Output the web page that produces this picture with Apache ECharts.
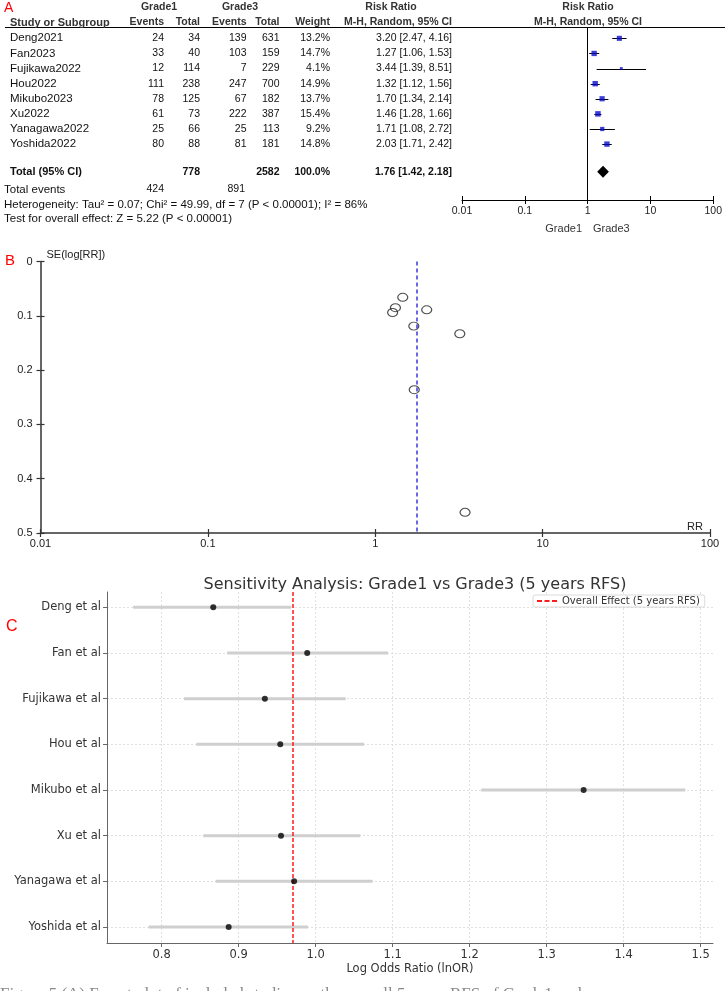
<!DOCTYPE html>
<html><head><meta charset="utf-8">
<script src="https://cdn.jsdelivr.net/npm/echarts@6/dist/echarts.min.js"></script>
<style>html,body{margin:0;padding:0;background:#fff}#c{width:725px;height:991px}</style>
</head><body><div id="c"></div>
<script>
// ---------- DATA ----------
const studies = ['Deng2021','Fan2023','Fujikawa2022','Hou2022','Mikubo2023','Xu2022','Yanagawa2022','Yoshida2022'];
const grade1Events = [24,33,12,111,78,61,25,80];
const grade1Total = [34,40,114,238,125,73,66,88];
const grade3Events = [139,103,7,247,67,222,25,81];
const grade3Total = [631,159,229,700,182,387,113,181];
const weights = [13.2,14.7,4.1,14.9,13.7,15.4,9.2,14.8];
const riskRatio = [3.20,1.27,3.44,1.32,1.70,1.46,1.71,2.03];
const ciLower = [2.47,1.06,1.39,1.12,1.34,1.28,1.08,1.71];
const ciUpper = [4.16,1.53,8.51,1.56,2.14,1.66,2.72,2.42];
const pooledRR = 1.76, pooledLower = 1.42, pooledUpper = 2.18;
const totalGrade1 = 778, totalGrade3 = 2582, eventsGrade1 = 424, eventsGrade3 = 891;
const heterogeneityText = 'Heterogeneity: Tau\u00b2 = 0.07; Chi\u00b2 = 49.99, df = 7 (P < 0.00001); I\u00b2 = 86%';
const overallEffectText = 'Test for overall effect: Z = 5.22 (P < 0.00001)';
const rrTickLabels = ['0.01','0.1','1','10','100'];

const funnelSE = [0.133,0.094,0.462,0.085,0.119,0.066,0.236,0.089];
const funnelYTickLabels = ['0','0.1','0.2','0.3','0.4','0.5'];

const sensLabels = ['Deng et al','Fan et al','Fujikawa et al','Hou et al','Mikubo et al','Xu et al','Yanagawa et al','Yoshida et al'];
const sensEstimate = [0.867,0.989,0.934,0.954,1.348,0.955,0.972,0.887];
const sensLower = [0.763,0.885,0.829,0.845,1.215,0.854,0.870,0.783];
const sensUpper = [0.968,1.094,1.039,1.063,1.480,1.058,1.074,0.990];
const sensOverall = 0.969;
const sensTickLabels = ['0.8','0.9','1.0','1.1','1.2','1.3','1.4','1.5'];

// ---------- LAYOUT ----------
const FA = '"Liberation Sans", Arial, sans-serif';
const FC = '"DejaVu Sans", sans-serif';
const rowY0 = 38.3, rowH = 15.11, totalRow = 8.83;
const rowY = i => rowY0 + rowH * i;
const colRight = [164, 200, 246.5, 279.5, 330, 452];
const NUM = '10.5px ' + FA, WORD = '11.5px ' + FA;

function txt(text, x, y, o) {
  o = o || {};
  const al = o.align || 'left', va = o.va || 'middle';
  return {type:'text', x:x, y:y, silent:true, z:10,
    style:{text:text, fill:o.color || '#111', font:o.font || NUM,
      align:al, verticalAlign:va, textAlign:al, textVerticalAlign:va}};
}

const graphics = [];
// Panel A header
const HB = 'bold 10.5px ' + FA;
graphics.push(txt('A', 4, 8, {color:'#ff0000', font:'14px ' + FA}));
graphics.push(txt('Grade1', 159, 7.5, {align:'center', font:HB, color:'#333'}));
graphics.push(txt('Grade3', 240, 7.5, {align:'center', font:HB, color:'#333'}));
graphics.push(txt('Risk Ratio', 391, 7.5, {align:'center', font:HB, color:'#333'}));
graphics.push(txt('Risk Ratio', 588, 7.5, {align:'center', font:HB, color:'#333'}));
graphics.push(txt('Study or Subgroup', 10, 22.5, {font:'bold 11px ' + FA, color:'#333'}));
['Events','Total','Events','Total','Weight','M-H, Random, 95% CI'].forEach((h, k) =>
  graphics.push(txt(h, colRight[k], 22.5, {align:'right', font:HB, color:'#333'})));
graphics.push(txt('M-H, Random, 95% CI', 588, 22.5, {align:'center', font:HB, color:'#333'}));
graphics.push({type:'line', silent:true, shape:{x1:5, y1:27.5, x2:725, y2:27.5}, style:{stroke:'#000', lineWidth:1}});
// rows
studies.forEach((s, i) => {
  const y = rowY(i);
  graphics.push(txt(s, 10, y, {font:WORD}));
  const vals = [grade1Events[i], grade1Total[i], grade3Events[i], grade3Total[i],
    weights[i].toFixed(1) + '%',
    riskRatio[i].toFixed(2) + ' [' + ciLower[i].toFixed(2) + ', ' + ciUpper[i].toFixed(2) + ']'];
  vals.forEach((v, k) => graphics.push(txt(String(v), colRight[k], y, {align:'right'})));
});
const yT = rowY(totalRow);
graphics.push(txt('Total (95% CI)', 10, yT, {font:'bold 11px ' + FA}));
graphics.push(txt(String(totalGrade1), colRight[1], yT, {align:'right', font:HB}));
graphics.push(txt(String(totalGrade3), colRight[3], yT, {align:'right', font:HB}));
graphics.push(txt(weights.reduce((a, b) => a + b, 0).toFixed(1) + '%', colRight[4], yT, {align:'right', font:HB}));
graphics.push(txt(pooledRR.toFixed(2) + ' [' + pooledLower.toFixed(2) + ', ' + pooledUpper.toFixed(2) + ']', colRight[5], yT, {align:'right', font:HB}));
graphics.push(txt('Total events', 4, 189.5, {font:WORD}));
graphics.push(txt(String(eventsGrade1), colRight[0], 189.5, {align:'right'}));
graphics.push(txt(String(eventsGrade3), 245, 189.5, {align:'right'}));
graphics.push(txt(heterogeneityText, 4, 204.5, {font:WORD}));
graphics.push(txt(overallEffectText, 4, 219, {font:WORD}));
graphics.push(txt('Grade1', 582, 228.5, {align:'right', color:'#333', font:'11px ' + FA}));
graphics.push(txt('Grade3', 593, 228.5, {color:'#333', font:'11px ' + FA}));
// Panel B labels
graphics.push(txt('B', 5, 261, {color:'#ff0000', font:'15px ' + FA}));
graphics.push(txt('SE(log[RR])', 46.5, 255, {color:'#222', font:'11px ' + FA}));
graphics.push(txt('RR', 687, 527, {color:'#222', font:'11px ' + FA}));
// Panel C label
graphics.push(txt('C', 6, 627, {color:'#ff0000', font:'16px ' + FA}));
// Caption (clipped at bottom)
graphics.push(txt('Figure 5 (A) Forest plot of included studies on the overall 5 years RFS of Grade1 and', 0, 986,
  {va:'top', color:'#8a8a8a', font:'17px "Liberation Serif", serif'}));

function tickLabel(list, v) {
  for (const t of list) if (Math.abs(+t - v) < 1e-6 * Math.max(1, Math.abs(v))) return t;
  return '';
}

const axisA = {color:'#000', width:1};
const axisB = {color:'#333', width:1.5};
const axisC = {color:'#666', width:1};

const option = {
  animation:false,
  backgroundColor:'#fff',
  graphic:{elements:graphics},
  title:{text:'Sensitivity Analysis: Grade1 vs Grade3 (5 years RFS)', left:410, top:572, textAlign:'center',
    textStyle:{fontFamily:FC, fontSize:16, fontWeight:'normal', color:'#333'}},
  legend:{data:[{name:'Overall Effect (5 years RFS)', icon:'path://M0,0h5v2h-5z M7.5,0h5v2h-5z M15,0h5v2h-5z'}],
    left:533, top:595, orient:'horizontal',
    itemWidth:20, itemHeight:2, itemGap:4, padding:[1,5,1,4], borderColor:'#d0d0d0', borderWidth:0.8, borderRadius:2,
    backgroundColor:'#fff', textStyle:{fontFamily:FC, fontSize:10, color:'#333'}},
  grid:[
    {left:462, right:11, top:27, bottom:791},
    {left:40.5, right:15, top:261.5, bottom:458},
    {left:107, right:12, top:592, bottom:48}
  ],
  xAxis:[
    {gridIndex:0, type:'log', logBase:10, min:0.01, max:100, position:'bottom',
      axisLine:{onZero:false, lineStyle:axisA}, axisTick:{length:4, lineStyle:axisA}, splitLine:{show:false},
      axisLabel:{fontFamily:FA, fontSize:10.5, color:'#222', margin:6, formatter:v => tickLabel(rrTickLabels, v)}},
    {gridIndex:0, type:'log', logBase:10, min:0.01, max:100, position:'bottom',
      axisLine:{show:false, onZero:false}, axisTick:{inside:true, length:4, lineStyle:axisA}, axisLabel:{show:false}, splitLine:{show:false}},
    {gridIndex:1, type:'log', logBase:10, min:0.01, max:100, position:'bottom',
      axisLine:{onZero:false, lineStyle:axisB}, axisTick:{length:4, lineStyle:{color:'#333', width:1.2}}, splitLine:{show:false},
      axisLabel:{fontFamily:FA, fontSize:11, color:'#222', margin:5, formatter:v => tickLabel(rrTickLabels, v)}},
    {gridIndex:1, type:'log', logBase:10, min:0.01, max:100, position:'bottom',
      axisLine:{show:false, onZero:false}, axisTick:{inside:true, length:4, lineStyle:{color:'#333', width:1.2}}, axisLabel:{show:false}, splitLine:{show:false}},
    {gridIndex:2, type:'value', min:0.729, max:1.516, position:'bottom',
      name:'Log Odds Ratio (lnOR)', nameLocation:'middle', nameGap:20,
      nameTextStyle:{fontFamily:FC, fontSize:11.5, color:'#333'},
      axisLine:{onZero:false, lineStyle:axisC}, splitLine:{show:false},
      axisTick:{length:4, lineStyle:axisC, customValues:sensTickLabels.map(Number)},
      axisLabel:{fontFamily:FC, fontSize:11.5, color:'#333', margin:6, customValues:sensTickLabels.map(Number),
        formatter:v => tickLabel(sensTickLabels, v)}}
  ],
  yAxis:[
    {gridIndex:0, type:'value', min:-0.75, max:10.7, inverse:true, show:false},
    {gridIndex:1, type:'value', min:0, max:0.5, interval:0.1, inverse:true, position:'left',
      axisLine:{show:true, onZero:false, lineStyle:axisB}, axisTick:{show:true, length:4, lineStyle:{color:'#333', width:1.2}}, splitLine:{show:false},
      axisLabel:{fontFamily:FA, fontSize:11, color:'#222', margin:8, formatter:v => funnelYTickLabels[Math.round(v * 10)]}},
    {gridIndex:1, type:'value', min:0, max:0.5, interval:0.1, inverse:true, position:'left',
      axisLine:{show:false, onZero:false}, axisTick:{show:true, inside:true, length:4, lineStyle:{color:'#333', width:1.2}}, axisLabel:{show:false}, splitLine:{show:false}},
    {gridIndex:2, type:'value', min:-0.335, max:7.35, inverse:true, position:'left',
      axisLine:{show:true, onZero:false, lineStyle:axisC}, splitLine:{show:false},
      axisTick:{show:true, length:4, lineStyle:axisC, customValues:sensLabels.map((_, i) => i)},
      axisLabel:{fontFamily:FC, fontSize:11.5, color:'#333', margin:6, customValues:sensLabels.map((_, i) => i),
        formatter:v => sensLabels[Math.round(v)] || ''}}
  ],
  series:[
    // A: CI whiskers
    {type:'custom', xAxisIndex:0, yAxisIndex:0, silent:true, z:3,
      data:studies.map((s, i) => [ciLower[i], ciUpper[i], i]),
      encode:{x:[0,1], y:2},
      renderItem:(p, api) => {
        const a = api.coord([api.value(0), api.value(2)]);
        const b = api.coord([api.value(1), api.value(2)]);
        return {type:'line', shape:{x1:a[0], y1:Math.round(a[1]) + 0.5, x2:b[0], y2:Math.round(b[1]) + 0.5},
          style:{stroke:'#000', lineWidth:1}};
      }},
    // A: weighted squares + null line
    {type:'scatter', xAxisIndex:0, yAxisIndex:0, silent:true, z:4, symbol:'rect',
      data:studies.map((s, i) => [riskRatio[i], i, weights[i]]),
      symbolSize:v => 1.4 * Math.sqrt(v[2]),
      itemStyle:{color:'#0a0acc'},
      markLine:{silent:true, symbol:['none','none'], label:{show:false},
        lineStyle:{color:'#000', width:1, type:'solid'}, data:[{xAxis:1}]}},
    // A: pooled diamond
    {type:'custom', xAxisIndex:0, yAxisIndex:0, silent:true, z:5,
      data:[[pooledLower, pooledRR, pooledUpper, totalRow]],
      encode:{x:[0,1,2], y:3},
      renderItem:(p, api) => {
        const l = api.coord([api.value(0), api.value(3)]);
        const m = api.coord([api.value(1), api.value(3)]);
        const r = api.coord([api.value(2), api.value(3)]);
        const h = 6;
        return {type:'polygon', shape:{points:[[l[0], l[1]], [m[0], m[1] - h], [r[0], r[1]], [m[0], m[1] + h]]},
          style:{fill:'#000'}};
      }},
    // B: funnel points
    {type:'scatter', xAxisIndex:2, yAxisIndex:1, silent:true, z:4, symbol:'circle', symbolSize:[10,8],
      data:studies.map((s, i) => [riskRatio[i], funnelSE[i]]),
      itemStyle:{color:'rgba(255,255,255,0)', borderColor:'#222', borderWidth:1.1},
      markLine:{silent:true, symbol:['none','none'], label:{show:false},
        lineStyle:{color:'#3a3ad6', width:1.5, type:[4,3]}, data:[{xAxis:pooledRR}]}},
    // C: grid lines
    {type:'line', xAxisIndex:4, yAxisIndex:3, data:[], silent:true, z:0,
      markLine:{silent:true, symbol:['none','none'], label:{show:false}, z:0,
        lineStyle:{color:'#d9d9d9', width:0.8, type:[2,2]},
        data:sensTickLabels.map(t => ({xAxis:+t})).concat(sensLabels.map((_, i) => ({yAxis:i})))}},
    // C: CI bars
    {type:'custom', xAxisIndex:4, yAxisIndex:3, silent:true, z:2,
      data:sensLabels.map((s, i) => [sensLower[i], sensUpper[i], i]),
      encode:{x:[0,1], y:2},
      renderItem:(p, api) => {
        const a = api.coord([api.value(0), api.value(2)]);
        const b = api.coord([api.value(1), api.value(2)]);
        return {type:'line', shape:{x1:a[0], y1:a[1], x2:b[0], y2:b[1]},
          style:{stroke:'#cfcfcf', lineWidth:3}};
      }},
    // C: overall effect line (legend entry)
    {type:'line', name:'Overall Effect (5 years RFS)', xAxisIndex:4, yAxisIndex:3, data:[], symbol:'none', z:3,
      lineStyle:{color:'#ff1a1a', width:1.5, type:[4,2]}, itemStyle:{color:'#ff1a1a'},
      markLine:{silent:true, symbol:['none','none'], label:{show:false}, z:3,
        lineStyle:{color:'#ff1a1a', width:1.5, type:[4,2]}, data:[{xAxis:sensOverall}]}},
    // C: estimates
    {type:'scatter', xAxisIndex:4, yAxisIndex:3, silent:true, z:5, symbol:'circle', symbolSize:6,
      data:sensLabels.map((s, i) => [sensEstimate[i], i]), itemStyle:{color:'#000'}}
  ]
};
const chart = echarts.init(document.getElementById('c'), null, {renderer:'canvas', width:725, height:991});
chart.setOption(option);
</script></body></html>
